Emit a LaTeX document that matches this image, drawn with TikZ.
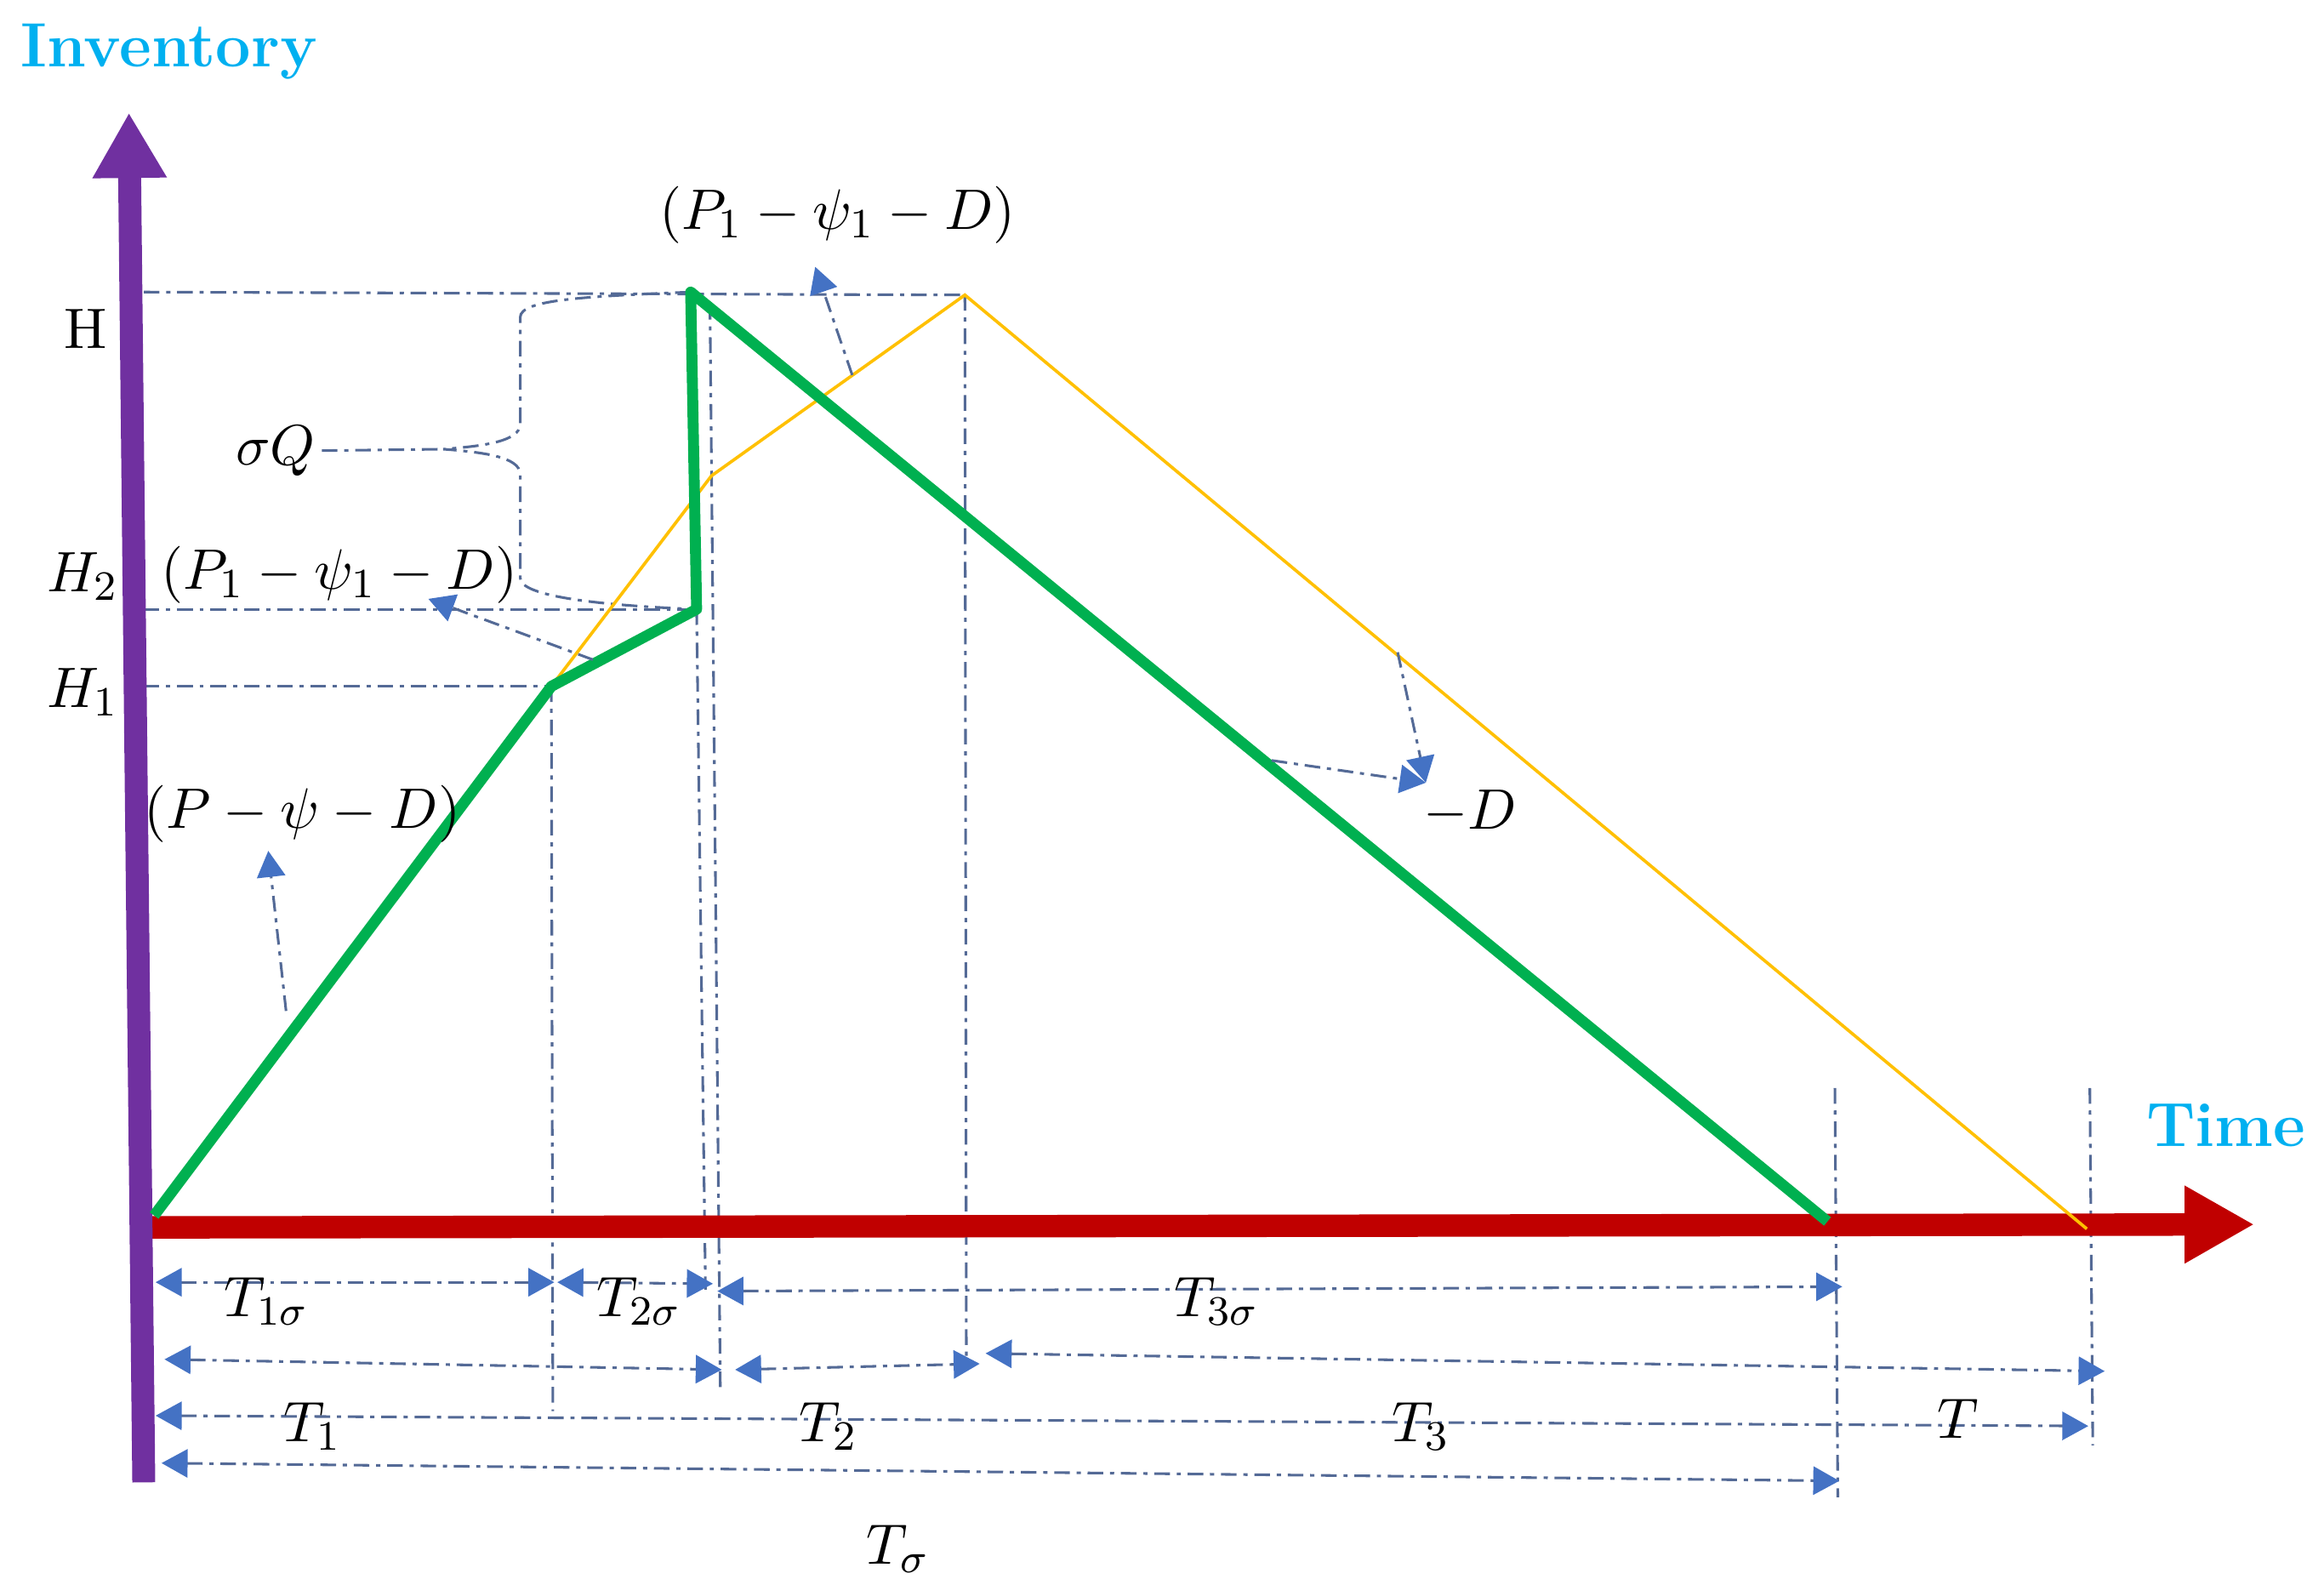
\documentclass[tikz,border=0pt]{standalone}
\usepackage{amsmath}
\usetikzlibrary{arrows.meta}
\definecolor{invcyan}{RGB}{0,176,240}
\definecolor{axpurple}{RGB}{112,48,160}
\definecolor{axred}{RGB}{192,0,0}
\definecolor{lvgreen}{RGB}{0,176,80}
\definecolor{lvorange}{RGB}{255,192,0}
\definecolor{guidegray}{RGB}{84,106,150}
\definecolor{tipblue}{RGB}{68,114,196}

\begin{document}
\begin{tikzpicture}[x=0.01cm,y=-0.01cm,
    guide/.style={guidegray, line width=0.5pt, dash pattern=on 3pt off 1.3pt on 0.8pt off 1.3pt},
    dim/.style={guide, {Triangle[length=5pt,width=5.4pt,color=tipblue]}-{Triangle[length=5pt,width=5.4pt,color=tipblue]}},
    note/.style={guide, -{Triangle[length=5pt,width=5.4pt,color=tipblue]}},
    lbl/.style={inner sep=1pt, font=\fontsize{10.95}{13}\selectfont},
    axlbl/.style={invcyan, inner sep=1pt, font=\fontsize{12}{14}\selectfont\bfseries}]

  \useasboundingbox (0,0) rectangle (1568,1069);

  % corners of the two inventory curves
  \coordinate (O) at (97,827);
  \coordinate (g0) at (104,820);
  \coordinate (h1) at (372,463);
  \coordinate (h2) at (470,411);
  \coordinate (hp) at (466,197);
  \coordinate (gend) at (1233,824);
  \coordinate (yk) at (480,321);
  \coordinate (yp) at (651,199);
  \coordinate (yend) at (1408,829);

  % guide lines
  \draw[guide] (O |- hp) -- (yp);
  \draw[guide] (O |- h2) -- (h2);
  \draw[guide] (O |- h1) -- (h1);
  \coordinate (v1) at (373,952);
  \coordinate (v2a) at (479,205);
  \coordinate (v2) at (476,870);
  \coordinate (v3) at (486,936);
  \coordinate (v4) at (652,920);
  \coordinate (v5t) at (1238,734);
  \coordinate (v5) at (1240,1010);
  \coordinate (v6t) at (1410,734);
  \coordinate (v6) at (1412,975);
  \draw[guide] (h1) -- (v1);
  \draw[guide] (h2) -- (v2);
  \draw[guide] (v2a) -- (v3);
  \draw[guide] (yp) -- (v4);
  \draw[guide] (v5t) -- (v5);
  \draw[guide] (v6t) -- (v6);

  % brace for sigma Q
  \coordinate (bt) at (299,303);
  \draw[guide] (hp) .. controls (395,200) and (351,202) .. (351,214) -- (351,286)
    .. controls (351,298) and (325,301) .. (bt)
    .. controls (325,305) and (351,308) .. (351,320) -- (351,390)
    .. controls (351,404) and (420,409) .. (h2);

  % axes
  \draw[axred, line width=4.3pt, -{Triangle[length=0.47cm,width=0.49cm]}] (100,828) -- (1521,826);
  \draw[axpurple, line width=4.4pt, -{Triangle[length=0.44cm,width=0.47cm]}] (97,1000) -- (87,76);

  % inventory curves
  \draw[lvorange, line width=0.6pt] (h1) -- (yk) -- (yp) -- (yend);
  \draw[lvgreen, line width=2.1pt, line join=round] (g0) -- (h1) -- (h2) -- (hp) -- (gend);

  % rate labels and pointers
  \node[lbl] (rP1hi) at (565,145) {$(P_1-\psi_1-D)$};
  \node[lbl] (rP1lo) at (229,388) {$(P_1-\psi_1-D)$};
  \node[lbl] (rP) at (204,549) {$(P-\psi-D)$};
  \node[lbl] (rD) at (992,548) {$-D$};
  \coordinate (nT0) at (575,253);
  \coordinate (nT1) at (550,180);
  \coordinate (nL0) at (400,445);
  \coordinate (nL1) at (289,404);
  \coordinate (nP0) at (193,682);
  \coordinate (nP1) at (181,574);
  \coordinate (nD0) at (943,440);
  \coordinate (nD1) at (858,513);
  \coordinate (nDt) at (962,528);
  \draw[note] (nT0) -- (nT1);
  \draw[note] (nL0) -- (nL1);
  \draw[note] (nP0) -- (nP1);
  \draw[note] (nD0) -- (nDt);
  \draw[note] (nD1) -- (nDt);

  % level labels
  \node[lbl] (lH) at (58,222) {H};
  \node[lbl] (lsQ) at (186,304) {$\sigma Q$};
  \node[lbl] (lH2) at (56,389) {$H_2$};
  \node[lbl] (lH1) at (56,467) {$H_1$};
  \draw[guide] (lsQ.east) -- (bt);

  % time spans
  \coordinate (a1) at (105,865);  \coordinate (a2) at (374,865);
  \coordinate (a3) at (376,865);  \coordinate (a4) at (481,866);
  \coordinate (a5) at (484,871);  \coordinate (a6) at (1243,868);
  \coordinate (b1) at (111,917);  \coordinate (b2) at (487,924);
  \coordinate (b3) at (496,924);  \coordinate (b4) at (661,920);
  \coordinate (b5) at (665,913);  \coordinate (b6) at (1420,925);
  \coordinate (c1) at (105,955);  \coordinate (c2) at (1409,962);
  \coordinate (d1) at (109,987);  \coordinate (d2) at (1241,999);
  \draw[dim] (a1) -- (a2);
  \draw[dim] (a3) -- (a4);
  \draw[dim] (a5) -- (a6);
  \draw[dim] (b1) -- (b2);
  \draw[dim] (b3) -- (b4);
  \draw[dim] (b5) -- (b6);
  \draw[dim] (c1) -- (c2);
  \draw[dim] (d1) -- (d2);

  \node[lbl] (t1s) at (180,878) {$T_{1\sigma}$};
  \node[lbl] (t2s) at (431,878) {$T_{2\sigma}$};
  \node[lbl] (t3s) at (821,878) {$T_{3\sigma}$};
  \node[lbl] (t1) at (211,962) {$T_1$};
  \node[lbl] (t2) at (559,962) {$T_2$};
  \node[lbl] (t3) at (959,962) {$T_3$};
  \node[lbl] (tt) at (1321,957) {$T$};
  \node[lbl] (ts) at (606,1045) {$T_\sigma$};

  % axis titles
  \node[axlbl] (inv) at (114,35) {Inventory};
  \node[axlbl] (time) at (1502,759) {Time};
\end{tikzpicture}
\end{document}
